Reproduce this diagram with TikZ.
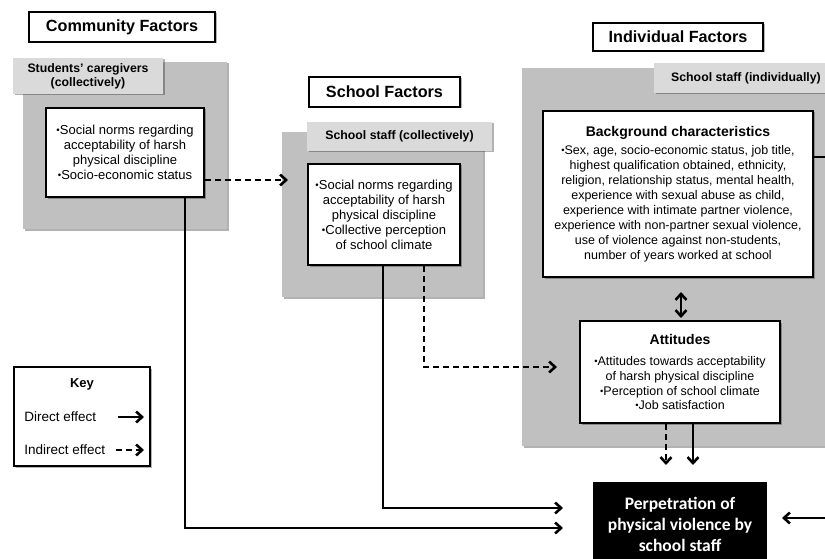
\documentclass[tikz,border=0pt]{standalone}
\usepackage{graphicx}
\usepackage{fontspec}
\setmainfont{Liberation Sans}
\newfontfamily\calib{Carlito}
\usetikzlibrary{arrows.meta,shadows}
\definecolor{bigg}{RGB}{192,192,192}
\definecolor{labg}{RGB}{218,218,218}
\newcommand{\bul}{\raisebox{0.15ex}{\scalebox{0.75}{•}}}
\begin{document}
\begin{tikzpicture}[x=1pt,y=-1pt,line width=2.6pt,
  >={Straight Barb[length=6pt,width=11pt,line width=2.6pt]},
  shad/.style={drop shadow={shadow xshift=1.5pt,shadow yshift=-1.5pt,opacity=.3,fill=black}},
  titlebox/.style={draw=black,line width=2.4pt,fill=white,inner sep=0pt,shad,
    font=\bfseries\fontsize{16.2}{19}\selectfont},
  graybg/.style={fill=bigg,draw=none,inner sep=0pt,shad},
  labelbox/.style={fill=labg,draw=none,inner sep=0pt,align=center,shad,
    font=\bfseries\fontsize{12.3}{14}\selectfont},
  whitebox/.style={draw=black,line width=2.2pt,fill=white,inner sep=0pt,align=center,shad,
    font=\fontsize{13}{15}\selectfont},
  dsh/.style={dash pattern=on 6pt off 4pt}]
\clip (0,0) rectangle (825,559);
\fill[white] (0,0) rectangle (825,559);

% Community
\node[titlebox,minimum width=186pt,minimum height=30pt] (commtitle) at (122,27) {Community Factors};
\node[graybg,minimum width=204pt,minimum height=167pt] (commbg) at (125,145.5) {};
\node[labelbox,minimum width=150pt,minimum height=36pt] (commlabel) at (88,76) {Students' caregivers\\(collectively)};
\node[whitebox,minimum width=158pt,minimum height=89pt] (commbox) at (125,152.5)
  {\bul Social norms regarding\\acceptability of harsh\\physical discipline\\\bul Socio-economic status};

% School
\node[titlebox,minimum width=151pt,minimum height=30pt] (schtitle) at (384.5,92) {School Factors};
\node[graybg,minimum width=201pt,minimum height=165pt] (schbg) at (382.5,214.5) {};
\node[labelbox,minimum width=185pt,minimum height=29pt] (schlabel) at (399.5,136.5) {School staff (collectively)};
\node[whitebox,minimum width=152pt,minimum height=101pt] (schbox) at (384,214.5)
  {\bul Social norms regarding\\acceptability of harsh\\physical discipline\\\bul Collective perception\\of school climate};

% Individual
\node[titlebox,minimum width=170pt,minimum height=28pt] (indtitle) at (678,37) {Individual Factors};
\node[graybg,minimum width=320pt,minimum height=378pt] (indbg) at (682,257) {};
\node[labelbox,minimum width=184pt,minimum height=30pt] (indlabel) at (746,78) {School staff (individually)};
\node[whitebox,minimum width=270pt,minimum height=166pt,font=\fontsize{12.5}{15}\selectfont] (bgbox) at (678,194)
  {{\bfseries\fontsize{14}{16}\selectfont Background characteristics}\\[3pt]
   \bul Sex, age, socio-economic status, job title,\\
   highest qualification obtained, ethnicity,\\
   religion, relationship status, mental health,\\
   experience with sexual abuse as child,\\
   experience with intimate partner violence,\\
   experience with non-partner sexual violence,\\
   use of violence against non-students,\\
   number of years worked at school};
\node[whitebox,minimum width=200pt,minimum height=102pt,font=\fontsize{12.5}{14.7}\selectfont] (attbox) at (680,372)
  {{\bfseries\fontsize{14}{16}\selectfont Attitudes}\\[7pt]
   \bul Attitudes towards acceptability\\
   of harsh physical discipline\\
   \bul Perception of school climate\\
   \bul Job satisfaction};

% Outcome
\node[fill=black,text=white,inner sep=0pt,minimum width=174pt,minimum height=84pt,align=center,
  font=\calib\bfseries\fontsize{17.5}{21}\selectfont] (outbox) at (680,524)
  {Perpetration of\\physical violence by\\school staff};

% Key
\node[draw=black,line width=2.2pt,fill=white,inner sep=0pt,minimum width=136pt,minimum height=99pt,shad] (key) at (82,416.5) {};
\node[font=\bfseries\fontsize{13}{15}\selectfont,inner sep=0pt] (keyt) at (82,384) {Key};
\node[font=\fontsize{13.5}{15}\selectfont,inner sep=0pt,anchor=west] (kd) at (23,417) {Direct effect};
\node[font=\fontsize{13.5}{15}\selectfont,inner sep=0pt,anchor=west] (ki) at (23,450) {Indirect effect};
\coordinate (k1) at (118,417); \coordinate (k2) at (144,417);
\coordinate (k3) at (116,450); \coordinate (k4) at (144,450);
\draw[->] (k1) -- (k2);
\draw[->,dash pattern=on 6pt off 4pt] (k3) -- (k4);

% Connectors
\coordinate (cd) at (288,180);
\draw[->,dsh] (commbox.east |- cd) -- (cd);

\coordinate (v1) at (185,528); \coordinate (c1) at (563,528);
\draw[->] (commbox.south -| v1) -- (v1) -- (c1);

\coordinate (v2) at (383,508); \coordinate (c2) at (563,508);
\draw[->] (schbox.south -| v2) -- (v2) -- (c2);

\coordinate (v3) at (424,367); \coordinate (c3) at (557,367);
\draw[->,dsh] (schbox.south -| v3) -- (v3) -- (c3);

\coordinate (d1) at (681,292); \coordinate (d2) at (681,318);
\draw[<->] (d1) -- (d2);

\coordinate (a1) at (666,465); \coordinate (a2) at (693,465);
\draw[->,dsh] (attbox.south -| a1) -- (a1);
\draw[->] (attbox.south -| a2) -- (a2);

\coordinate (r1) at (845,157); \coordinate (r2) at (845,518); \coordinate (r3) at (782,518);
\draw[->] (bgbox.east |- r1) -- (r1) -- (r2) -- (r3);
\end{tikzpicture}
\end{document}
